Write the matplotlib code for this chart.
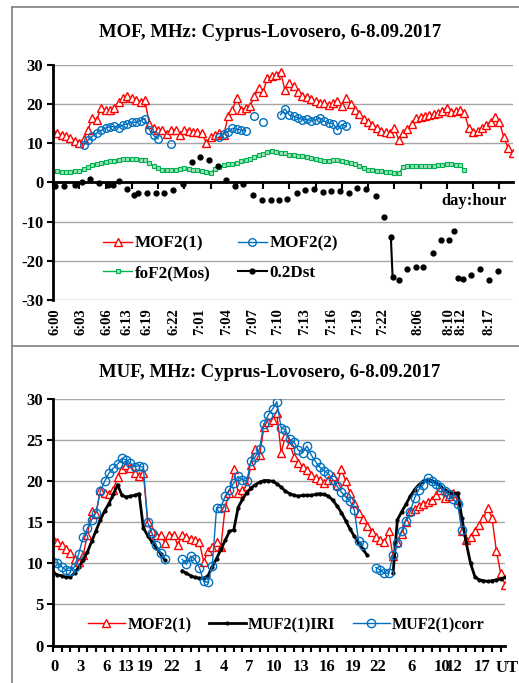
import numpy as np
import matplotlib
matplotlib.use('Agg')
import matplotlib.pyplot as plt
from matplotlib.lines import Line2D

plt.rcParams['font.family'] = 'Liberation Serif'
plt.rcParams['font.weight'] = 'bold'
plt.rcParams['axes.unicode_minus'] = False

nan = np.nan

# category axis: one step = half an hour slot of the record (gaps in time are not shown)
cat = np.arange(106) * 0.5

# labels of the category axis
top_labels = ['6:00', '6:03', '6:06', '6:13', '6:19', '6:22', '7:01', '7:04', '7:07',
              '7:10', '7:13', '7:16', '7:19', '7:22', '8:06', '8:10', '8:12', '8:17']
bot_labels = ['0', '3', '6', '13', '19', '22', '1', '4', '7',
              '10', '13', '16', '19', '22', '6', '10', '12', '17']
label_cat = [0.2, 3.2, 6.2, 8.5, 10.7, 13.8, 16.8, 19.8, 22.8,
             25.7, 28.8, 31.8, 34.8, 37.7, 41.7, 45.2, 46.6, 49.8]

# MOF2(1), MHz (same series in both panels)
mof1 = [13.0, 12.6, 12.2, 11.8, 11.3, 10.6, 10.2, 11.0, 13.5, 16.4,
        16.0, 19.0, 18.6, 18.4, 19.0, 20.5, 21.5, 22.0, 21.6, 21.0,
        20.6, 21.0, 15.0, 13.9, 13.5, 13.5, 12.5, 13.5, 13.5, 12.2,
        13.5, 13.2, 13.0, 12.8, 12.6, 10.2, 11.5, 12.0, 12.6, 12.0,
        16.9, 18.6, 21.5, 18.6, 19.0, 19.4, 22.0, 24.0, 23.2, 26.6,
        27.2, 27.5, 28.3, 23.5, 25.5, 24.5, 23.0, 22.2, 21.8, 21.4,
        20.8, 20.4, 20.2, 19.8, 20.2, 20.7, 19.6, 21.5, 20.0, 18.6,
        17.4, 16.2, 15.4, 14.6, 13.8, 13.2, 12.8, 12.6, 13.9, 10.9,
        12.6, 13.6, 15.0, 16.4, 16.6, 17.0, 17.3, 17.5, 17.7, 18.3,
        19.0, 18.0, 18.2, 18.6, 17.7, 13.9, 12.8, 13.2, 14.0, 14.7,
        15.5, 16.8, 15.5, 11.5, 8.8, 7.4]

# MOF2(2), MHz
mof2 = ([nan] * 7 +
        [9.5, 10.8, 11.8, 12.6, 13.3, 13.9, 14.2, 14.3, 14.0, 14.7,
         15.0, 15.4, 15.4, 15.8, 16.3, 13.5, 12.0, 11.2] +
        [nan, nan, 9.8] + [nan] * 10 +
        [11.7, 12.5, 13.0, 13.8, 13.6, 13.4, 13.2] +
        [nan, 16.9, nan, 15.5, nan, nan, nan] +
        [17.3, 18.8, 17.2, 16.9, 16.5, 16.0, 16.1, 15.8, 16.0, 16.4,
         15.6, 15.2, 15.0, 13.4, 14.8, 14.3] +
        [nan] * 38)

# foF2 Moscow, MHz
fof2 = [2.9, 2.8, 2.7, 2.6, 2.7, 2.8, 2.9, 3.4, 4.0, 4.4,
        4.7, 5.0, 5.2, 5.4, 5.6, 5.8, 5.9, 6.0, 6.0, 5.9,
        5.8, 5.7, 5.0, 4.2, 3.7, 3.3, 3.2, 3.1, 3.3, 3.5,
        3.7, 3.4, 3.3, 3.1, 2.9, 2.7, 2.5, 3.4, 3.9, 4.4,
        4.6, 4.8, 5.0, 5.4, 5.8, 6.0, 6.5, 6.9, 7.3, 7.7,
        8.0, 7.9, 7.6, 7.4, 7.1, 6.9, 6.8, 6.7, 6.5, 6.3,
        6.0, 5.7, 5.4, 5.6, 5.8, 5.8, 5.5, 5.2, 5.0, 4.7,
        4.2, 3.6, 3.3, 3.1, 2.9, 2.8, 2.7, 2.6, 2.4, 2.3,
        4.0, 4.2, 4.2, 4.2, 4.3, 4.3, 4.3, 4.3, 4.4, 4.5,
        4.6, 4.6, 4.5, 4.4, 3.3] + [nan] * 11

# 0.2*Dst (hourly points on the category axis)
dst_cat = [0.2, 1.3, 2.5, 3.3, 4.2, 5.3, 6.3, 6.9, 7.5, 8.5, 9.2, 9.7, 10.7, 11.8,
           12.7, 13.7, 14.8, 15.9, 16.8, 17.8, 18.8, 19.8, 20.8, 21.7, 22.8, 23.9,
           24.9, 25.8, 26.7, 27.9, 28.8, 29.8, 30.8, 31.8, 32.8, 33.8, 34.7, 35.8,
           36.9, 37.8, 38.6, 38.8, 39.5, 40.5, 41.5, 42.3, 43.4, 44.3, 45.3, 45.8,
           46.3, 46.8, 47.8, 48.8, 49.8, 50.8]
dst = [-1.0, -0.8, -0.6, 0.0, 0.9, -0.2, -0.6, -0.6, 0.3, -1.6, -3.2, -2.6, -2.6, -2.6,
       -2.6, -1.9, -0.3, 5.2, 6.4, 5.8, 4.1, 0.7, -1.0, -0.3, -3.2, -4.6,
       -4.6, -4.4, -4.2, -2.6, -2.0, -1.6, -2.5, -2.3, -2.1, -2.6, -1.4, -1.6,
       -3.4, -8.7, -13.8, -24.2, -24.9, -22.1, -21.7, -21.7, -17.9, -14.7, -14.7, -12.5,
       -24.5, -24.6, -23.6, -22.1, -24.9, -22.5]

# MUF2(1) from IRI, MHz
muf_iri = [8.9, 8.6, 8.5, 8.3, 8.4, 8.8, 9.6, 10.4, 11.4, 12.7,
           14.0, 15.3, 16.4, 17.3, 18.4, 19.6, 18.3, 18.1, 18.2, 18.3,
           18.5, 14.3, 13.4, 12.6, 11.9, 11.2, 10.4, nan, nan, nan,
           9.1, 8.8, 8.5, 8.3, 8.2, 8.2, 8.5, 9.6, 10.6, 11.7,
           12.8, 13.9, 14.1, 16.8, 17.8, 18.6, 19.2, 19.6, 19.9, 20.1,
           20.1, 20.0, 19.7, 19.3, 18.8, 18.5, 18.3, 18.2, 18.3, 18.3,
           18.3, 18.4, 18.5, 18.4, 18.2, 17.7, 17.0, 16.2, 15.2, 14.2,
           13.3, 12.5, 11.7, 11.0, nan, nan, nan, nan, nan, 8.8,
           15.3, 16.3, 17.2, 18.2, 19.0, 19.6, 20.0, 20.2, 20.1, 19.8,
           19.4, 19.0, 18.7, 18.5, 18.6, 15.5, 12.5, 10.0, 8.4, 8.0,
           7.9, 7.8, 7.9, 8.0, 8.1, 8.3]

# MUF2(1) corrected, MHz
muf_corr = [10.2, 10.1, 9.6, 9.2, 9.1, 9.6, 11.2, 13.2, 14.3, 15.3,
            16.2, 18.8, 20.0, 21.0, 21.6, 22.1, 22.8, 22.6, 22.2, 21.8,
            21.9, 21.7, 15.0, 13.7, 12.2, 11.3, 10.6, nan, nan, nan,
            10.5, 9.9, 10.9, 10.5, 9.5, 7.8, 7.7, 9.7, 16.8, 16.8,
            18.2, 19.0, 19.8, 20.6, 20.2, 20.0, 22.5, 23.0, 24.0, 27.0,
            28.1, 28.8, 29.7, 26.5, 26.3, 25.1, 24.8, 23.8, 23.5, 24.3,
            23.2, 22.4, 21.7, 21.3, 20.9, 20.2, 19.4, 18.7, 18.1, 17.6,
            16.5, 12.7, 12.2, nan, nan, 9.5, 9.2, 8.8, 8.8, 11.0,
            12.5, 14.0, 15.2, 16.3, 18.0, 19.0, 19.6, 20.4, 20.0, 19.7,
            19.3, 18.8, 18.4, 17.9, 17.2, 14.1, nan, nan, nan, nan,
            nan, nan, nan, nan, nan, nan]

red = '#FF0000'
blue = '#0070C0'
green = '#00B050'
grid_c = '#A6A6A6'

fig = plt.figure(figsize=(5.19, 6.83), dpi=100)

# panel frames
fig.add_artist(Line2D([0.023, 0.023], [0, 0.99], color='#7f7f7f', lw=1.2))
fig.add_artist(Line2D([0.023, 1], [0.99, 0.99], color='#7f7f7f', lw=1.2))
fig.add_artist(Line2D([0.023, 1], [0.493, 0.493], color='#7f7f7f', lw=1.2))

# ---- top panel: MOF ----
ax = fig.add_axes([0.1021, 0.5608, 0.8854, 0.3441])
l1, = ax.plot(cat, mof1, '-', color=red, lw=1, marker='^', ms=5.5, mfc='white',
              mec=red, mew=1, label='MOF2(1)')
l2, = ax.plot(cat, mof2, '-', color=blue, lw=1, marker='o', ms=5.5, mfc='none',
              mec=blue, mew=1, label='MOF2(2)')
l3, = ax.plot(cat, fof2, '-', color=green, lw=1, marker='s', ms=3, mfc='#9fe0b8',
              mec=green, mew=0.8, label='foF2(Mos)')
# break the Dst line where hours are missing
dx = np.array(dst_cat)
dy = np.array(dst, dtype=float)
brk = np.where(np.diff(dx) > 0.45)[0] + 1
l4, = ax.plot(np.insert(dx, brk, nan), np.insert(dy, brk, nan), '-', color='black', lw=1.5,
              marker='o', ms=3.5, label='0.2Dst')

ax.set_xlim(0, 52.5)
ax.set_ylim(-30, 30)
ax.set_yticks(range(-30, 31, 10))
ax.grid(axis='y', color=grid_c, lw=1)
ax.set_axisbelow(True)
for s in ['top', 'right']:
    ax.spines[s].set_visible(False)
ax.spines['left'].set_linewidth(2)
ax.spines['bottom'].set_position(('data', 0))
ax.spines['bottom'].set_linewidth(2)
ax.set_xticks(np.arange(0, 52.5, 3))
ax.set_xticklabels([])
ax.tick_params(axis='x', direction='out', length=5, width=1.5)
ax.tick_params(axis='y', direction='out', length=4, width=1.5, labelsize=12, pad=3)

sec = ax.secondary_xaxis('bottom')
sec.set_xticks(label_cat)
sec.set_xticklabels(top_labels, rotation=90, fontsize=10.5, fontweight='bold')
sec.tick_params(length=0, pad=6)
sec.spines['bottom'].set_visible(False)

ax.text(0.988, -4.8, 'day:hour', transform=ax.get_yaxis_transform(),
        ha='right', va='center', fontsize=12, fontweight='bold')
fig.text(0.52, 0.952, 'MOF, MHz: Cyprus-Lovosero, 6-8.09.2017', ha='center',
         va='center', fontsize=13.5, fontweight='bold')
# legend filled row by row: MOF2(1) MOF2(2) / foF2(Mos) 0.2Dst
ax.legend([l1, l3, l2, l4], ['MOF2(1)', 'foF2(Mos)', 'MOF2(2)', '0.2Dst'],
          loc='center', bbox_to_anchor=(0.425, 0.6215), bbox_transform=fig.transFigure,
          ncol=2, frameon=False, fontsize=12.3, handlelength=1.7, handletextpad=0.15,
          columnspacing=1.6, labelspacing=0.8, borderpad=0)

# ---- bottom panel: MUF ----
ax = fig.add_axes([0.1021, 0.0549, 0.8709, 0.3605])
ax.plot(cat, mof1, '-', color=red, lw=1, marker='^', ms=6, mfc='white',
        mec=red, mew=1, label='MOF2(1)')
ax.plot(cat, muf_iri, '-', color='black', lw=2, marker='o', ms=2, label='MUF2(1)IRI')
ax.plot(cat, muf_corr, '-', color=blue, lw=1, marker='o', ms=6, mfc='none',
        mec=blue, mew=1, label='MUF2(1)corr')

ax.set_xlim(0, 52.5)
ax.set_ylim(0, 30)
ax.set_yticks(range(0, 31, 5))
ax.grid(axis='y', color=grid_c, lw=1)
ax.set_axisbelow(True)
for s in ['top', 'right']:
    ax.spines[s].set_visible(False)
ax.spines['left'].set_linewidth(2)
ax.spines['bottom'].set_linewidth(2)
ax.set_xticks(np.arange(0, 53, 1), minor=True)
ax.set_xticks(label_cat)
ax.set_xticklabels(bot_labels, fontsize=12, fontweight='bold')
ax.tick_params(axis='x', which='minor', direction='out', length=4, width=1.5)
ax.tick_params(axis='x', which='major', length=0, pad=10)
ax.tick_params(axis='y', direction='out', length=4, width=1.5, labelsize=12, pad=3)
ax.text(1.004, -0.091, 'UT', transform=ax.transAxes, ha='center', va='center',
        fontsize=12, fontweight='bold')

fig.text(0.52, 0.454, 'MUF, MHz: Cyprus-Lovosero, 6-8.09.2017', ha='center',
         va='center', fontsize=13.5, fontweight='bold')
ax.legend(loc='center', bbox_to_anchor=(0.552, 0.085), bbox_transform=fig.transFigure,
          ncol=3, frameon=False, fontsize=11.5, handlelength=2.3, handletextpad=0.15,
          columnspacing=1.1, borderpad=0)

fig.savefig('out.png', dpi=100)
